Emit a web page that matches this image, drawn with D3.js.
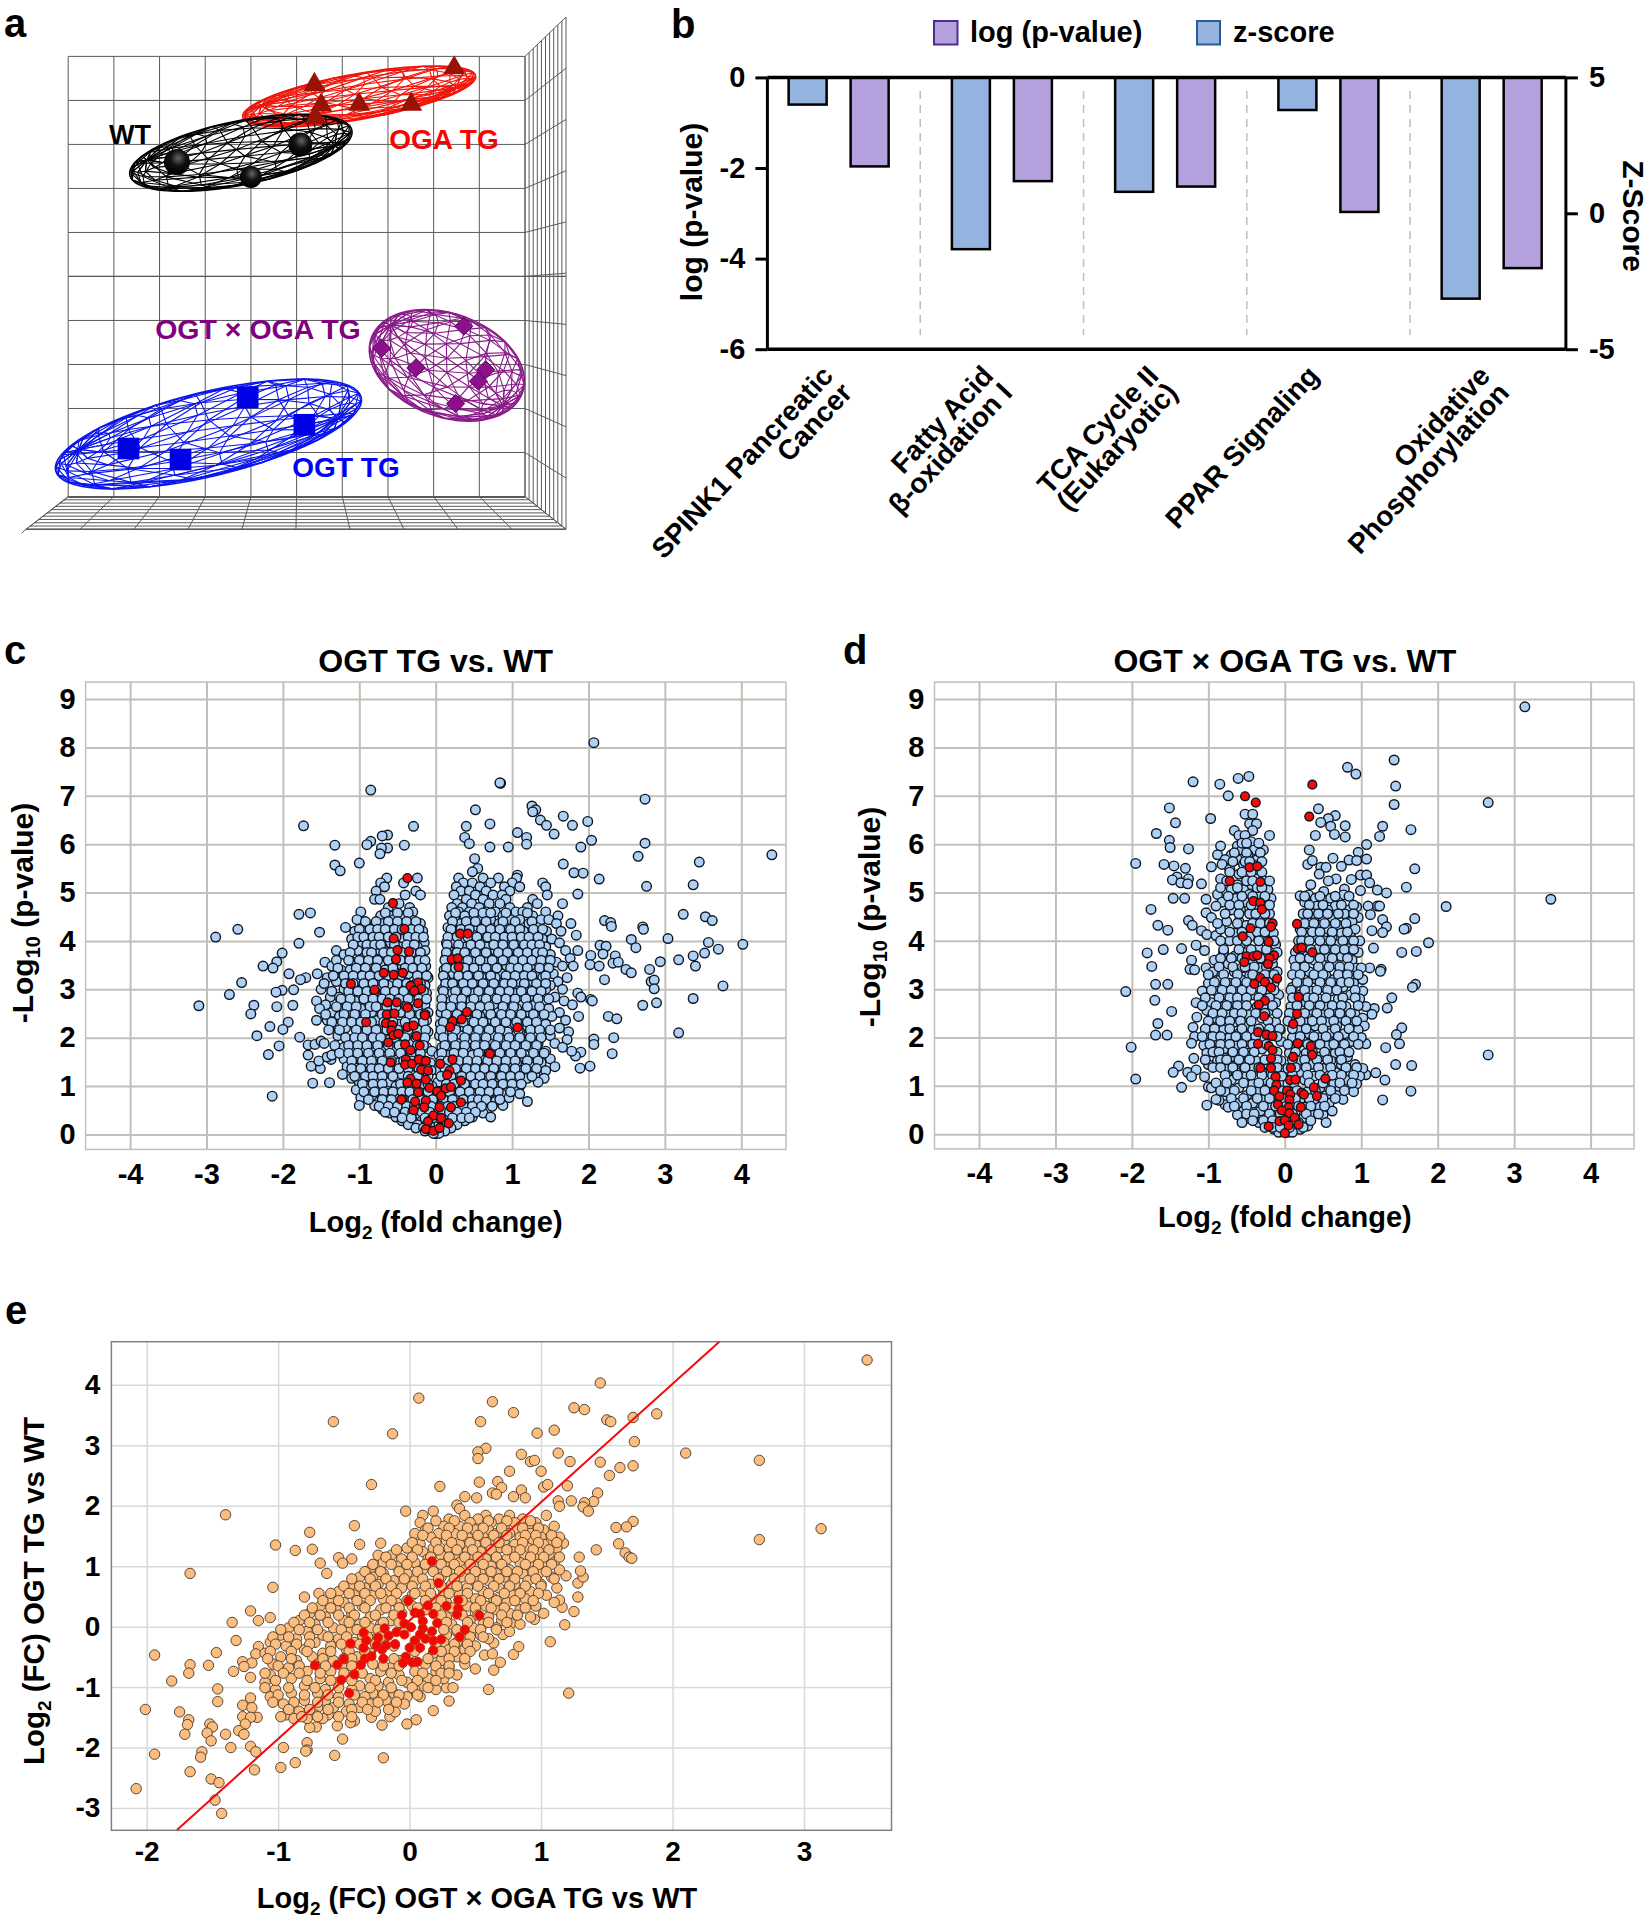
<!DOCTYPE html>
<html><head><meta charset="utf-8">
<script src="https://cdn.jsdelivr.net/npm/d3@7/dist/d3.min.js"></script>
<style>html,body{margin:0;background:#fff}svg{display:block}text{font-family:"Liberation Sans",Arial,sans-serif;font-weight:bold}</style>
</head><body><svg id="s" width="1650" height="1920"></svg>
<script>
// ---------- panel a ----------
const pcaBlack=[[2.38,7.6],[5.08,8.0],[4.0,7.26]];
const pcaRed=[[5.39,9.36],[8.45,9.74],[6.37,8.91],[7.51,8.91],[5.54,8.89],[5.41,8.61]];
const pcaPurple=[[8.66,3.87],[6.86,3.37],[7.61,2.92],[9.14,2.88],[8.98,2.62],[8.48,2.11]];
const pcaBlue=[[3.93,2.25],[5.17,1.63],[1.32,1.09],[2.46,.84]];
// centre x, centre y, major, minor, tilt
const ellRed=[6.37,9.09,2.59,.5,-10];
const ellBlack=[3.78,7.81,2.48,.7,-11.4];
const ellPurple=[8.29,2.98,1.76,1.13,20];
const ellBlue=[3.07,1.42,3.44,.92,-13.5];
// ---------- panel b ----------
const pathways=[["SPINK1 Pancreatic","Cancer"],["Fatty Acid","β-oxidation I"],["TCA Cycle II","(Eukaryotic)"],["PPAR Signaling"],["Oxidative","Phosphorylation"]];
const logP=[-1.965,-2.29,-2.41,-2.97,-4.21];
const zScore=[4.0,-1.32,.79,3.8,-3.14];
const bLeftTicks=[0,-2,-4,-6], bRightTicks=[5,0,-5];
// ---------- panel c ----------
const volX=[-4,-3,-2,-1,0,1,2,3,4], volY=[0,1,2,3,4,5,6,7,8,9];
const cOut=[[2.07,8.1],[-.85,7.12],[.85,7.26],[.84,7.27],[2.74,6.93],[.52,6.71],[1.26,6.79],[1.31,6.71],[1.27,6.67],[1.67,6.58],[1.99,6.47],[1.79,6.39],[1.37,6.5],[1.45,6.39],[-1.73,6.38],[-.29,6.37],[.4,6.37],[.71,6.42],[1.07,6.24],[1.55,6.21],[1.19,6.14],[.38,6.14],[2.04,6.08],[-.63,6.19],[-.7,6.17],[-.85,6.06],[-.9,5.99],[-1.32,5.98],[-.41,5.98],[-.63,5.92],[-.71,5.92],[-.73,5.8],[.44,6.01],[.71,5.94],[.95,5.94],[1.19,6],[1.9,5.94],[2.74,6.02],[2.65,5.75],[4.4,5.78],[3.45,5.63],[-1,5.61],[-1.32,5.57],[-1.25,5.45],[.51,5.7],[.55,5.5],[.48,5.43],[1.67,5.59],[1.81,5.41],[1.93,5.4],[2.14,5.28],[1.07,5.36],[2.76,5.13],[3.37,5.16],[1.86,4.97],[3.24,4.55],[3.53,4.5],[3.62,4.42],[2.21,4.42],[2.29,4.38],[2.3,4.3],[2.71,4.29],[2.72,4.24],[2.56,4.03],[3.04,4.05],[4.02,3.93],[3.57,3.97],[3.7,3.83],[2.62,3.86],[3.52,3.75],[3.37,3.69],[2.15,3.91],[2.23,3.89],[2.19,3.73],[2.35,3.69],[2.03,3.7],[2.94,3.57],[3.18,3.61],[3.4,3.48],[2.32,3.54],[2.39,3.56],[2.02,3.51],[2.14,3.48],[2.49,3.41],[2.56,3.34],[2.8,3.41],[2.21,3.2],[2.82,3.16],[2.86,3.19],[2.86,3.01],[3.76,3.07],[3.37,2.81],[2.03,2.79],[2.05,2.76],[2.71,2.67],[2.89,2.72],[2.26,2.44],[2.37,2.39],[3.18,2.1],[2.33,2],[2.07,1.97],[2.07,1.86],[2.31,1.67],[2.02,1.41],[1.89,1.37],[1.9,1.7],[1.83,1.62],[-2.59,4.24],[-2.88,4.08],[-1.79,4.55],[-1.64,4.58],[-1.52,4.18],[-1.79,3.95],[-2.01,3.75],[-2.08,3.57],[-2.26,3.48],[-2.13,3.44],[-1.92,3.32],[-2.54,3.14],[-1.7,3.24],[-1.77,3.2],[-2.01,2.98],[-2.09,2.94],[-1.86,2.99],[-2.7,2.89],[-3.1,2.66],[-2.38,2.67],[-2.42,2.49],[-2.08,2.64],[-1.87,2.67],[-2.17,2.23],[-1.93,2.32],[-2,2.17],[-2.34,2.04],[-1.78,2.01],[-2.05,1.83],[-2.19,1.65],[-2.14,.79],[-1.61,1.06],[-1.39,1.07],[-1.63,1.41],[-1.67,1.64],[-1.51,1.36],[-1.53,1.52],[-1.37,1.55],[-1.42,1.6],[-1.67,1.85],[-1.58,1.86],[-1.5,1.93]];
// each row: y, then the x values read at about that height
const cRows=[
[5.3,.3,.62,.82,1.06,-.24,-.64],[5.2,.36,.48,.72,1,1.4,-.72,-.42],[5.12,.27,.58,.9,1.1,1.44,-.67],[5.03,.33,.44,.66,.97,-.78,-.26],[4.95,.24,.52,.75,.87,1.46,-.4,-.2],[4.86,.4,.62,.92,1.27,-.8,-.73],[4.77,.28,.47,.7,.84,1.33,1.66,-.48],[4.69,.21,.35,.57,.97,1.2,-.62,-.34],[4.6,.3,.44,.66,.78,1.05,1.14,1.44,-.98,-.3],[4.52,.18,.38,.53,.88,1.27,1.6,-.6,-.72,-.42],[4.44,.25,.6,.72,.98,1.1,1.38,1.48,-1.03,-.55,-.32],[4.36,.33,.46,.83,1.22,1.58,1.77,-.7,-.2,-.45],[4.28,.16,.55,.68,.91,1.02,1.32,-1.18,-.84,-.62,-.38,-.25],[4.2,.27,.39,.77,1.15,1.45,1.64,-1.06,-.92,-.72,-.5,-.17],[4.12,.2,.49,.62,.86,1.05,1.26,1.84,-.78,-.57,-.3],[4.04,.34,.56,.95,1.18,1.4,1.52,-1.1,-.88,-.66,-.42,-.2],[3.96,.14,.25,.72,.82,1.1,1.3,1.62,-.96,-.6,-.33,-.15],[3.88,.4,.52,.66,.92,1.22,1.44,-.83,-.7,-.47,-.24],[3.8,.17,.3,.78,1.03,1.36,1.7,1.86,-1.3,-1.02,-.76,-.55,-.14],[3.72,.24,.46,.6,.88,1.14,1.28,1.5,-1.2,-.64,-.4,-.26],[3.64,.13,.36,.7,.97,1.2,1.42,1.76,-.95,-.8,-.5,-.18],[3.56,.52,.64,.83,1.07,1.33,1.58,-1.45,-1.08,-.72,-.3],[3.48,.18,.28,.42,.76,.93,1.24,1.66,1.8,-1.36,-.88,-.6,-.44,-.13],[3.4,.11,.34,.58,1.01,1.14,1.46,-1.24,-1.12,-.98,-.66,-.26],[3.32,.22,.48,.68,.86,1.3,1.54,-1.55,-.82,-.5,-.36,-.17],[3.24,.12,.38,.6,.78,.96,1.18,1.4,1.72,-1.42,-1.16,-.92,-.7,-.1],[3.16,.27,.52,.7,1.08,1.27,1.6,-1.3,-1.04,-.78,-.56,-.24,-.42],[3.08,.17,.44,.84,.98,1.36,1.5,-.88,-.62,-.34,-.14],[3,.09,.32,.64,.76,1.16,1.44,1.66,-1.5,-1.2,-.96,-.72,-.47],[2.92,.22,.5,.9,1.06,1.3,1.86,-1.1,-.84,-.58,-.12],[2.84,.36,.58,.72,1.22,1.56,1.9,-1.38,-1.26,-1,-.66,-.4],[2.76,.1,.2,.46,.84,.98,1.4,1.68,-1.56,-1.06,-.76,-.3],[2.68,.28,.62,.76,1.14,1.3,1.79,-1.44,-.9,-.54,-.14],[2.6,.14,.4,.52,.92,1.06,1.48,-1.52,-1.2,-.98,-.72,-.42],[2.52,.07,.24,.68,.82,1.22,1.62,-1.36,-1.12,-.84,-.46,-.1],[2.44,.32,.58,.98,1.36,1.52,1.87,-1.26,-1,-.62,-.26],[2.36,.17,.44,.74,.88,1.14,1.7,-1.56,-1.42,-.76,-.12],[2.28,.06,.28,.54,1.04,1.28,1.44,-1.3,-1.08,-.88,-.48],[2.2,.38,.66,.8,1.2,1.62,-1.18,-.94,-.7,-.2],[2.12,.12,.22,.48,.94,1.1,1.38,1.74,-1.02,-.82,-.34,-.1],[2.04,.05,.34,.6,.74,1.28,1.5,-1.28,-.9,-.46,-.17],[1.96,.18,.42,.86,1,1.16,1.72,-1.14,-.76,-.6],[1.88,.28,.54,.7,1.34,1.56,-1.46,-1,-.84,-.34],[1.8,.08,.14,.4,.92,1.08,1.24,1.66,-1.2,-.7,-.12],[1.72,.26,.62,.78,1.44,1.78,-1.08,-.92,-.55,-.05],[1.64,.04,.18,.48,.86,1.02,1.3,-1.36,-.78,-.42],[1.56,.32,.58,.72,1.16,1.5,-1.2,-1.02,-.62,-.28],[1.48,.1,.22,.44,.94,1.06,1.38,-.9,-.5,-.07],[1.4,.3,.66,.82,1.24,1.56,-1.16,-.72,-.26],[1.32,.04,.14,.52,1,1.12,1.44,-1.04,-.86,-.56,-.06],[1.24,.24,.4,.74,.9,1.3,-1.22,-.94,-.68,-.44],[1.16,.1,.58,1.04,1.2,1.42,-1.1,-.78,-.16],[1.08,.03,.3,.46,.84,.96,1.34,-1,-.6,-.3],[1,.18,.66,.78,1.1,-.88,-.52,-.05],[.92,.25,.38,.94,1.02,-1.04,-.74,-.4,-.15],[.84,.08,.52,.7,.86,1.1,-.9,-.62,-.3],[.76,.03,.3,.44,.96,-.98,-.5,-.06],[.68,.16,.6,.78,1.2,-.74,-.36,-.1],[.6,.26,.42,.88,-1,-.8,-.56,-.44],[.52,.09,.52,.68,-.7,-.34,-.22],[.44,.03,.2,.36,.62,-.6,-.46,-.14],[.36,.13,.3,.48,.72,-.52,-.36,-.24],[.28,.08,.22,.38,-.44,-.3,-.18],[.2,.02,.14,.28,-.36,-.24,-.08],[.13,.07,.2,-.26,-.16],[.07,.02,.12,-.14,-.06],[.02,0,.04,-.03]];
const cRows2=[
[4.58,.26,.5,.62,.72,.92,1.2,-.66,-.5,-.36],[4.4,.22,.4,.52,.66,.88,1.04,1.26,-.92,-.78,-.62,-.5,-.38,-.26],[4.24,.2,.33,.44,.6,.72,.84,.98,1.1,1.28,1.4,-1,-.86,-.76,-.66,-.54,-.44,-.32,-.22],[4.08,.16,.28,.42,.54,.68,.78,.9,1,1.12,1.22,1.34,-1.02,-.94,-.82,-.74,-.62,-.52,-.36,-.26,-.16],[3.92,.15,.3,.46,.58,.76,.88,1.02,1.16,1.26,1.36,-1.08,-.9,-.8,-.72,-.54,-.38,-.28],[3.76,.14,.28,.38,.52,.66,.82,.94,1.08,1.2,1.32,1.4,-1.12,-.9,-.84,-.68,-.58,-.44,-.32,-.2],[3.6,.12,.24,.42,.58,.74,.88,1.02,1.14,1.26,1.38,1.5,-1.3,-1.14,-1,-.88,-.76,-.62,-.46,-.34,-.22,-.14],[3.44,.14,.26,.38,.5,.66,.8,.98,1.08,1.2,1.36,1.48,-1.28,-1.04,-.92,-.78,-.56,-.4,-.3,-.18],[3.28,.1,.3,.42,.56,.72,.92,1.04,1.16,1.26,1.44,-1.34,-1.2,-1.08,-.96,-.86,-.74,-.64,-.46,-.24,-.12],[3.12,.13,.22,.36,.48,.62,.76,.9,1,1.16,1.32,1.44,-1.46,-1.18,-1.08,-.94,-.82,-.68,-.5,-.38,-.2],[2.96,.1,.26,.4,.56,.7,.84,.96,1.12,1.26,1.38,-1.36,-1.14,-1.02,-.9,-.8,-.66,-.54,-.42,-.28,-.16],[2.8,.08,.24,.34,.5,.66,.8,.92,1.04,1.18,1.34,1.48,-1.24,-1.12,-.94,-.82,-.7,-.6,-.48,-.36,-.22,-.12],[2.64,.08,.2,.34,.46,.58,.7,.88,1.02,1.2,1.36,-1.3,-1.16,-1.04,-.86,-.78,-.64,-.52,-.38,-.24],[2.48,.14,.28,.4,.54,.72,.86,.98,1.12,1.28,1.42,-1.44,-1.2,-1.06,-.92,-.7,-.58,-.34,-.2,-.14],[2.32,.1,.22,.36,.5,.62,.78,.92,1.06,1.2,1.32,-1.36,-1.22,-1.1,-.98,-.84,-.68,-.56,-.4,-.28,-.16],[2.16,.07,.26,.42,.56,.7,.84,1.08,1.24,1.36,1.5,-1.4,-1.26,-1.04,-.9,-.78,-.64,-.5,-.36,-.24,-.13],[2,.1,.22,.38,.52,.66,.82,.96,1.1,1.24,1.38,-1.18,-1.06,-.96,-.82,-.72,-.54,-.4,-.26,-.14],[1.84,.12,.26,.38,.52,.64,.78,.92,1.04,1.18,1.32,-1.32,-1.14,-1.02,-.9,-.76,-.62,-.48,-.24,-.16],[1.68,.08,.24,.36,.56,.7,.84,.98,1.12,1.28,1.42,-1.26,-1.14,-1.02,-.88,-.74,-.6,-.46,-.32,-.2],[1.52,.07,.16,.3,.42,.54,.68,.8,.92,1.04,1.2,1.34,-1.1,-.96,-.84,-.7,-.58,-.42,-.32,-.14],[1.36,.12,.26,.4,.52,.64,.76,.9,1.04,1.18,1.32,-1.1,-.98,-.84,-.74,-.62,-.48,-.36,-.22,-.12],[1.2,.07,.2,.34,.46,.58,.72,.86,.98,1.1,1.26,-1.06,-.92,-.82,-.7,-.56,-.36,-.24,-.1],[1.04,.14,.24,.38,.52,.62,.74,.88,1,1.12,-.96,-.82,-.7,-.46,-.36,-.18,-.1],[.88,.05,.18,.32,.44,.58,.7,.82,.98,-.94,-.8,-.68,-.56,-.44,-.34,-.22,-.1],[.72,.1,.22,.36,.48,.56,.66,.84,-.88,-.7,-.58,-.44,-.3,-.2,-.04],[.58,.06,.16,.24,.36,.48,.6,.74,-.74,-.62,-.5,-.38,-.28,-.14,-.06],[.46,.09,.18,.28,.4,.52,-.66,-.54,-.4,-.3,-.18,-.08],[.34,.04,.22,.34,.44,-.44,-.32,-.14,-.04]];
const cRed=[[-.37,5.3],[-.56,4.78],[-.41,4.25],[-.55,4.05],[.32,4.15],[.42,4.15],[-.5,3.81],[-.35,3.78],[-.52,3.62],[.21,3.62],[.29,3.64],[.3,3.46],[-.68,3.34],[-.43,3.34],[-.55,3.3],[-1.11,3.11],[-.23,3.14],[-.33,3.07],[-.19,3.01],[-.28,2.97],[-.8,2.99],[-.63,2.73],[-.51,2.73],[-.23,2.71],[-.37,2.62],[-.64,2.48],[-.54,2.5],[-.14,2.46],[.41,2.53],[.34,2.38],[.22,2.34],[.19,2.22],[-.91,2.32],[-.65,2.3],[-.57,2.26],[-.37,2.22],[-.29,2.25],[1.07,2.21],[-.58,2.15],[-.55,2.05],[-.49,2.08],[-.25,2.03],[-.62,1.9],[-.4,1.86],[-.21,1.84],[-.33,1.74],[.71,1.67],[-.59,1.49],[-.39,1.55],[-.4,1.44],[-.31,1.46],[-.22,1.55],[-.13,1.52],[.06,1.46],[.22,1.55],[-.19,1.34],[-.1,1.32],[.18,1.32],[.15,1.23],[-.33,1.15],[-.13,1.13],[.33,1.11],[-.37,1.07],[-.25,1.05],[-.08,.96],[.13,.95],[.2,.98],[-.23,.87],[.02,.89],[.07,.8],[-.45,.72],[-.27,.68],[-.13,.7],[.33,.66],[-.15,.56],[-.29,.5],[.05,.56],[.2,.56],[-.03,.39],[-.1,.27],[.07,.34],[.17,.23],[-.13,.11],[-.03,.07],[.05,.13]];
// ---------- panel d ----------
const dOut=[[3.14,8.84],[1.43,7.74],[.82,7.59],[.93,7.45],[1.45,7.2],[1.43,6.82],[2.66,6.86],[-1.2,7.29],[-.85,7.24],[-.61,7.36],[-.47,7.4],[-.74,7],[-1.51,6.75],[-1.43,6.44],[-.97,6.53],[-1.68,6.22],[-1.51,6.08],[-1.5,5.93],[-1.26,5.9],[-1.95,5.6],[-1.58,5.58],[-1.45,5.55],[-1.3,5.5],[-.96,5.53],[-1.41,5.32],[-1.47,5.26],[-1.26,5.28],[-1.36,5.2],[-1.27,5.18],[-1.09,5.18],[-1.46,4.88],[-1.31,4.88],[-1.03,4.86],[-1.75,4.65],[-1.03,4.58],[-1.66,4.32],[-1.53,4.22],[-1.26,4.42],[-1.21,4.32],[-1.09,4.21],[-1.02,4.13],[-.9,4.11],[-1.16,3.91],[-1.35,3.84],[-1.59,3.82],[-1.8,3.75],[-1.05,3.8],[-1.22,3.6],[-1.74,3.47],[-1.24,3.41],[-1.18,3.4],[-1.03,3.44],[-1.69,3.1],[-1.53,3.1],[-2.08,2.95],[-1.7,2.77],[-1.48,2.54],[-1.15,2.42],[-1.66,2.29],[-1.2,2.21],[-1.69,2.05],[-1.54,2.05],[-1.18,2.02],[-1.22,1.88],[-2.01,1.8],[-1.19,1.57],[-1.39,1.41],[-1.46,1.28],[-1.27,1.28],[-1.16,1.33],[-1.22,1.19],[-1.05,1.19],[-1.95,1.14],[-1.35,.97],[-1,.98],[-1.02,.6],[-.78,.61],[-.86,.7],[.44,6.73],[.66,6.59],[.57,6.53],[.47,6.45],[.79,6.38],[.6,6.37],[.65,6.2],[.79,6.15],[.4,6.18],[1.28,6.37],[1.65,6.3],[1.24,6.16],[1.07,5.99],[.32,5.88],[.96,5.83],[1.07,5.69],[.84,5.67],[.94,5.66],[.63,5.71],[.3,5.58],[.36,5.66],[.74,5.54],[1.7,5.49],[.47,5.52],[.54,5.52],[.99,5.36],[1.07,5.36],[.45,5.38],[.87,5.27],[.67,5.28],[.57,5.24],[1.11,5.2],[1.59,5.11],[.34,5.16],[.78,5.07],[1.21,5.05],[1.33,4.99],[.99,5.04],[.77,4.95],[.51,5.02],[.31,4.95],[.2,4.93],[2.11,4.71],[3.48,4.86],[1.21,4.72],[1.09,4.72],[1.24,4.72],[1.7,4.46],[1.28,4.44],[1.33,4.29],[1.12,4.54],[.94,4.7],[1.59,4.26],[1.56,4.24],[1.28,4.17],[1.14,4.21],[1.88,3.96],[1.72,3.78],[1.53,3.76],[1.16,3.85],[1.26,3.41],[1.25,3.37],[1.11,3.44],[1.71,3.1],[1.67,3.04],[1.4,2.82],[1.34,2.61],[1.17,2.6],[1.14,2.48],[1.53,2.2],[1.46,2.06],[1.5,1.87],[1.06,1.87],[1.32,1.79],[2.66,1.64],[1.45,1.44],[1.66,1.42],[1.19,1.27],[1.31,1.12],[1.65,.89],[1.28,.71],[1.06,1.23]];
const dRows=[
[6.62,-.52,-.42],[6.42,-.46,-.37],[6.28,-.66,-.42],[6.18,-.6,-.52,-.2],[6.05,-.44],[5.96,-.84,-.62],[5.88,-.56,-.4,-.28],[5.78,-.88,-.7,-.48],[5.68,-.78,-.62,-.36],[5.58,-.82,-.54,-.42],[5.48,-.72],[5.38,-.6,-.5],[5.28,-.84,-.38],[5.16,-.62,-.44,-.28],[5.06,-.7,-.54,-.22],[4.96,-.88,-.46,-.34],[4.88,-.64,-.18,.4,.6],[4.8,-.82,-.52,.26,.7],[4.72,-.9,-.38,-.24,.42,.66],[4.64,-.7,-.58,.56,.84],[4.56,-.46,-.2,.24,.38,.78],[4.48,-.96,-.32,.5,.62,.96],[4.4,-.76,-.6,.3,.88],[4.32,-.5,-.24,.7,.44],[4.24,-.84,-.38,.2,.56,.92],[4.16,-.66,-.15,.3,.74],[4.08,-.46,-.3,.4,.62,.86],[4,-.72,-.22,.18,.52,.98],[3.92,-.58,-.12,.28,.7],[3.84,-.34,.44,.6,.84],[3.76,-.8,-.5,-.1,.14,.96],[3.68,-.66,-.26,.26,.54,.74],[3.6,-.92,-.42,.12,.38,.88],[3.52,-.74,-.16,.64,.48,.8],[3.44,-.56,-.32,.22,.94,1],[3.36,-.94,-.66,-.1,.32,.72],[3.28,-.46,-.2,.14,.54,.86],[3.2,-.84,-.58,-.36,.42,.64,1.02],[3.12,-1,-.72,-.14,.24,.9],[3.04,-.5,-.28,.1,.5,.76],[2.96,-1.08,-.9,-.62,.34,.6,1.02],[2.88,-.78,-.42,-.08,.2,.86],[2.8,-.56,-.24,.44,.7,.98],[2.72,-1.16,-.96,-.68,-.12,.28],[2.64,-.84,-.36,.08,.54,.8,1.06],[2.56,-1.02,-.6,-.2,.36,.64],[2.48,-.74,-.48,.16,.92,.48],[2.4,-.9,-.3,.06,.74,1.02],[2.32,-.66,-.12,.26,.56,.86],[2.24,-.98,-.52,.4,.68,1.04],[2.16,-.8,-.42,-.06,.18,.96],[2.08,-1.02,-.6,.32,.58,.78],[2,-.72,-.28,.1,.46,1],[1.92,-.9,-.5,-.05,.24,.68,.88],[1.84,-1.06,-.64,.38,.56],[1.76,-.8,-.3,.12,.8],[1.68,-1.02,-.48,.06,.28,.66],[1.6,-.7,-.58,.46,.82],[1.52,-.88,-.38,-.05,.18,.6],[1.44,-1,-.54,-.22,.34,.74,.92],[1.36,-.76,-.42,.04,.5,1.02],[1.28,-.64,-.3,.2,.66,.86],[1.2,-.5,-.04,.38,.98],[1.12,-.7,-.26,.26,.56,.8],[1.04,-.42,.04,.64,.94],[.96,-.96,-.6,-.2,.46,.72],[.88,-.78,-.34,.12,.3,.9],[.8,-.5,-.1,.54,.68],[.72,-.9,-.28,.2,.38,.76],[.64,-.62,-.42,.08,.58],[.56,-.74,-.18,.26,.46],[.48,-.54,-.32,0,.14,.62],[.4,-.62,-.1,.36,.5],[.32,-.46,-.24,.08,.24],[.24,-.56,-.34,-.06,.18,.54],[.17,-.22,.1,.3],[.1,-.14,-.04,.2],[.04,-.08,.04,.1]];
const dRows2=[
[6.02,-.56,-.34,-.5],[5.82,-.66,-.5,-.32],[5.64,-.68,-.52,-.46,-.3],[5.42,-.72,-.56,-.44,-.3],[5.24,-.76,-.5,-.42,-.26,-.2],[5.1,-.84,-.62,-.36,-.3],[4.92,-.74,-.56,-.42,-.26,.26,.46,.66,.84],[4.74,-.72,-.6,-.44,-.2,.32,.5,.74,.9],[4.56,-.78,-.6,-.38,-.26,.3,.44,.56,.7,.9],[4.36,-.88,-.62,-.42,-.32,-.2,.26,.38,.52,.66,.8],[4.18,-.72,-.56,-.36,-.26,.22,.36,.46,.62,.82],[4,-.84,-.62,-.5,-.34,-.14,.22,.32,.46,.6,.76,.9],[3.82,-.8,-.6,-.44,-.24,.2,.34,.52,.66,.78,.9],[3.64,-.84,-.7,-.56,-.32,-.16,.2,.32,.46,.62,.82],[3.46,-.86,-.68,-.52,-.4,-.24,.14,.26,.44,.58,.72,.84],[3.3,-1,-.8,-.62,-.42,-.26,-.14,.1,.2,.38,.5,.7,.82,.96],[3.14,-.92,-.78,-.64,-.5,-.32,-.22,.16,.3,.46,.6,.74,.84],[2.98,-.96,-.82,-.7,-.56,-.44,-.3,-.14,.08,.26,.42,.56,.68,.92],[2.82,-1.04,-.86,-.72,-.62,-.5,-.34,-.2,.1,.3,.38,.54,.76,.92],[2.66,-1.08,-.9,-.76,-.62,-.5,-.28,-.16,.16,.32,.46,.62,.74,.96],[2.5,-.94,-.82,-.66,-.56,-.38,-.26,-.1,.06,.26,.42,.58,.72,.86],[2.34,-1,-.84,-.72,-.58,-.44,-.22,.04,.2,.36,.48,.64,.8,.94],[2.18,-1.04,-.92,-.72,-.56,-.34,-.2,-.07,.1,.28,.5,.66,.84],[2.02,-1.08,-.94,-.84,-.64,-.5,-.38,-.1,.2,.38,.54,.7,.9],[1.86,-.98,-.84,-.72,-.56,-.42,-.24,.04,.16,.3,.46,.64,.78,.96],[1.7,-.94,-.86,-.68,-.54,-.4,-.1,.14,.36,.52,.72,.84],[1.54,-1.04,-.84,-.76,-.6,-.46,-.26,-.1,.1,.26,.42,.56,.74],[1.38,-.94,-.84,-.68,-.52,-.34,-.1,.14,.28,.44,.6,.8,.94],[1.22,-.78,-.62,-.44,-.3,-.16,.1,.3,.46,.62,.74,.9],[1.06,-.9,-.76,-.54,-.34,-.18,.12,.32,.5,.72,.88],[.9,-.84,-.66,-.44,-.26,-.06,.16,.4,.6,.78],[.74,-.7,-.54,-.36,-.2,-.02,.14,.32,.5,.66],[.58,-.66,-.5,-.28,-.12,.02,.18,.34,.52],[.42,-.5,-.4,-.2,-.06,.1,.28,.44],[.28,-.42,-.28,-.16,.02,.14,.34],[.14,-.26,-.16,-.06,.06,.24]];
const dRed=[[-.52,6.99],[-.38,6.86],[.36,7.23],[.32,6.57],[-.46,5.52],[-.36,5.54],[-.72,5.24],[-.32,5.22],[-.41,4.82],[-.32,4.79],[-.3,4.65],[-.16,4.36],[-.18,4.29],[-.45,4.26],[.16,4.35],[-.55,4.09],[-.21,3.98],[.17,3.84],[.22,3.86],[.36,3.76],[-.5,3.68],[-.41,3.68],[-.36,3.7],[-.14,3.7],[-.2,3.64],[-.53,3.56],[-.22,3.52],[-.32,3.23],[-.1,3.22],[-.26,3.15],[-.4,3.11],[-.18,3.03],[.18,2.84],[-.26,2.76],[-.34,2.68],[.16,2.49],[-.27,2.44],[.11,2.28],[-.35,2.11],[-.24,2.06],[-.16,2.03],[-.35,1.87],[.17,1.88],[.34,1.82],[-.21,1.82],[-.16,1.74],[.36,1.64],[.11,1.6],[-.18,1.57],[-.18,1.37],[-.32,1.37],[.08,1.37],[-.12,1.19],[.07,1.12],[.14,1.13],[.53,1.15],[-.11,1.02],[.38,.97],[-.14,.9],[.03,.9],[.22,.86],[.25,.82],[.42,.79],[-.07,.78],[.07,.82],[.06,.71],[-.09,.61],[.21,.56],[.05,.56],[-.04,.49],[.06,.43],[.13,.34],[-.07,.27],[0,.29],[.18,.2],[.05,.18],[-.21,.16],[0,.02]];
// ---------- panel e ----------
const eXTicks=[-2,-1,0,1,2,3], eYTicks=[-3,-2,-1,0,1,2,3,4];
const eLineX=[-1.77,2.356], eLineY=[-3.365,4.714];
const eOut=[[3.48,4.41],[1.45,4.03],[.07,3.78],[.63,3.72],[.79,3.54],[1.25,3.62],[1.33,3.59],[1.88,3.52],[1.7,3.46],[1.5,3.42],[1.53,3.39],[-.58,3.39],[.54,3.39],[-.13,3.19],[.97,3.2],[1.1,3.25],[1.71,3.06],[.58,2.95],[.52,2.89],[.52,2.78],[.85,2.85],[1.13,2.87],[2.1,2.87],[2.66,2.75],[.92,2.73],[.95,2.75],[1.22,2.73],[1.45,2.72],[1.7,2.66],[1.6,2.63],[1,2.57],[.76,2.57],[1.52,2.5],[.67,2.4],[.53,2.39],[-.29,2.35],[.23,2.32],[.7,2.3],[1.02,2.31],[1.05,2.35],[1.2,2.33],[.85,2.26],[1.43,2.21],[.63,2.21],[.66,2.19],[.42,2.15],[.51,2.13],[.79,2.15],[.88,2.13],[1.13,2.08],[1.23,2.08],[1.4,2.07],[1.33,2.05],[1.32,1.98],[1.14,1.99],[1.36,1.91],[.36,2.01],[-1.4,1.85],[-.03,1.91],[.18,1.91],[.38,1.95],[1.7,1.74],[1.57,1.64],[1.65,1.65],[3.13,1.62],[2.66,1.44],[1.59,1.37],[1.42,1.27],[1.64,1.22],[1.67,1.15],[1.69,1.13],[1.29,1.15],[1.17,1.38],[-.42,1.67],[-.76,1.56],[-.38,1.36],[-.22,1.38],[-1.02,1.35],[-.87,1.26],[-.74,1.28],[-.54,1.14],[-.44,1.12],[-.51,1.05],[-.68,1.05],[-.63,.88],[-1.67,.88],[-1.04,.65],[-.8,.49],[-.69,.55],[-1.21,.26],[-1.06,.15],[-1.15,.1],[-1.35,.07],[-1.94,-.47],[-1.32,-.23],[-1.47,-.43],[-1.15,-.33],[-1.17,-.45],[-1.27,-.58],[-1.2,-.6],[-1.26,-.66],[-1.67,-.63],[-1.53,-.64],[-1.34,-.74],[-1.68,-.77],[-1.81,-.9],[-1.21,-.84],[-1.46,-1.03],[-1.46,-1.24],[-1.21,-1.18],[-1.27,-1.3],[-1.2,-1.34],[-2.01,-1.37],[-1.75,-1.41],[-1.68,-1.54],[-1.69,-1.62],[-1.71,-1.78],[-1.27,-1.49],[-1.16,-1.5],[-1.21,-1.5],[-1.25,-1.61],[-1.52,-1.61],[-1.5,-1.66],[-1.54,-1.76],[-1.4,-1.78],[-1.3,-1.72],[-1.26,-1.78],[-1.51,-1.89],[-1.94,-2.11],[-1.58,-2.07],[-1.59,-2.16],[-1.36,-2],[-1.21,-1.98],[-1.17,-2.07],[-1.67,-2.4],[-1.18,-2.37],[-.98,-2.33],[-.87,-2.25],[-.96,-2],[-.78,-1.92],[-.78,-2.04],[-.79,-2.06],[-.57,-2.13],[-.2,-2.17],[-1.51,-2.52],[-1.45,-2.58],[-2.08,-2.68],[-1.48,-2.87],[-1.43,-3.09],[-.51,-1.86],[-.55,-1.64],[-.42,-1.56],[-.45,-1.59],[-.71,-1.66],[-.76,-1.67],[-.21,-1.63],[-.02,-1.61],[.05,-1.54],[.18,-1.39],[-.15,-1.49],[-.29,-1.5],[-.11,-1.41],[.3,-1.23],[.28,-1.01],[.33,-1.01],[.6,-1.04],[1.21,-1.1],[.5,-.7],[.64,-.72],[.69,-.59],[.57,-.47],[.63,-.45],[.79,-.46],[.83,-.33],[.64,-.27],[.71,-.13],[1.07,-.25],[1.18,.03],[1.25,.25],[1.16,.32],[1.14,.44],[.95,.12],[.77,.05],[1.28,.49],[1.28,.72],[1.32,.82],[1.19,.84],[1.3,.92]];
const eRows=[
[1.84,.1,.42,.58,.76,1.04],[1.78,.3,.52,.68,.86],[1.72,.08,.46,.62,.8,.96],[1.66,.26,.38,.72,.9,1.1],[1.6,.12,.5,.6,.82,1.02],[1.54,.04,.22,.34,.66,.76,.92],[1.48,.16,.44,.56,.84,1,1.14],[1.42,.28,.62,.72,.94,1.08],[1.36,.08,.38,.5,.8,1.02],[1.3,-.02,.18,.3,.6,.68,.9,1.12],[1.24,.1,.44,.54,.78,.98],[1.18,-.24,-.14,.24,.34,.64,.86,1.06],[1.12,-.06,.14,.46,.58,.74,.96],[1.06,-.2,.04,.28,.38,.68,.84,1.1],[1,-.1,.2,.5,.62,.92,1.02],[.94,-.3,.1,.32,.42,.76,1.14],[.88,-.2,-.02,.54,.66,.86,.98],[.82,-.38,-.28,.24,.4,.72,1.08],[.76,-.12,.04,.5,.6,.9],[.7,-.44,-.24,.16,.32,.8,1],[.64,-.34,-.06,.44,.68,1.12],[.58,-.54,-.16,.1,.26,.56,.92],[.52,-.42,-.28,.02,.38,.78,1.04],[.46,-.6,-.2,.18,.5,.64,.88],[.4,-.5,-.1,.28,.74,1.1],[.34,-.68,-.36,.02,.44,.58,.96],[.28,-.56,-.22,.12,.66,.84],[.22,-.76,-.44,-.06,.5,.76,1.02],[.16,-.64,-.3,.28,.6,.92],[.1,-.84,-.5,-.14,.46,.7],[.04,-.72,-.38,-.22,.32,.56,.84],[-.02,-.92,-.58,-.3,.48,.66],[-.08,-.78,-.46,.36,.76],[-.14,-.98,-.66,-.36,.28,.54],[-.2,-.86,-.54,-.26,.44,.6],[-.26,-1.06,-.72,-.42,.26,.36],[-.32,-.94,-.6,-.12,.5],[-.38,-.8,-.48,.3,.42],[-.44,-1.1,-.66,-.3,.18],[-.5,-.98,-.74,-.4,.36],[-.56,-.86,-.58,-.08,.24],[-.62,-1.04,-.7,-.28,.12,.42],[-.68,-.92,-.5,-.14,.3],[-.74,-.78,-.6,-.22,.04,.2],[-.8,-1.06,-.42,-.08,.36],[-.86,-.9,-.68,-.3,.14,.26],[-.92,-1.1,-.54,-.16,-.02],[-.98,-.8,-.38,-.24,.1],[-1.04,-1.02,-.64,-.44,.04,.2],[-1.1,-.9,-.7,-.28,-.12],[-1.16,-1.06,-.54,-.34,-.02,.08],[-1.22,-.8,-.64,-.18],[-1.28,-.96,-.46,-.3,-.04],[-1.34,-.7,-.58,-.38],[-1.4,-.84,-.48,-.26],[-1.46,-.94,-.72,-.62],[-1.52,-.88,-.78,-.66]];
const eRows2=[
[1.75,.2,.34,.6,.74,.92],[1.63,.14,.3,.44,.56,.7,.86,.98],[1.51,.1,.28,.4,.52,.64,.74,.88,.96,1.08],[1.39,.02,.2,.32,.46,.58,.68,.86,.98,1.12],[1.27,-.1,.06,.22,.36,.48,.62,.74,.84,.94,1.06],[1.15,-.18,.02,.16,.3,.42,.52,.66,.8,.92,1.02,1.14],[1.03,-.28,-.14,-.02,.12,.24,.34,.46,.56,.7,.88,.98,1.08],[.91,-.34,-.22,-.08,.06,.18,.28,.38,.5,.62,.74,.82,.94,1.04],[.79,-.44,-.3,-.18,-.04,.1,.22,.34,.46,.56,.68,.8,.96,1.1],[.67,-.5,-.38,-.26,-.14,.02,.12,.24,.36,.52,.64,.76,.88,1],[.55,-.6,-.46,-.34,-.22,-.1,.04,.16,.3,.44,.6,.72,.84,.98],[.43,-.66,-.54,-.4,-.3,-.14,-.02,.12,.24,.4,.54,.66,.8,.94],[.31,-.74,-.6,-.46,-.34,-.18,-.08,.06,.2,.32,.5,.62,.72,.88],[.19,-.8,-.68,-.54,-.42,-.26,-.12,.24,.4,.52,.7,.82],[.07,-.88,-.76,-.62,-.46,-.34,-.2,-.08,.28,.44,.6,.74],[-.05,-.98,-.84,-.7,-.52,-.4,-.24,.26,.36,.54,.66],[-.17,-1.04,-.92,-.76,-.62,-.48,-.32,-.22,.46,.56],[-.29,-1.02,-.86,-.76,-.52,-.38,-.26,.04,.2,.34,.44],[-.41,-1.06,-.9,-.78,-.6,-.46,-.34,.04,.24,.34,.46],[-.53,-1.08,-.9,-.66,-.5,-.44,-.12,.14,.3,.42],[-.65,-1,-.84,-.64,-.44,-.2,-.08,.2,.3],[-.77,-1.1,-.96,-.84,-.68,-.5,-.36,-.14,.1,.24,.3],[-.89,-1.02,-.78,-.6,-.44,-.26,-.06,.06,.2],[-1.01,-1.1,-.92,-.72,-.54,-.3,-.14,.02,.14],[-1.13,-1,-.8,-.62,-.42,-.2,-.08,.06],[-1.25,-1.04,-.88,-.7,-.54,-.36,-.24,-.1],[-1.37,-.92,-.76,-.62,-.44,-.32,-.16],[-1.49,-.98,-.82,-.7,-.54,-.44]];
const eRed=[[.17,1.08],[.22,.72],[-.01,.43],[.37,.44],[.14,.35],[.28,.34],[.37,.3],[-.06,.19],[.04,.23],[.08,.21],[.18,.21],[.36,.2],[.53,.19],[-.04,.05],[.1,.09],[.21,.06],[-.19,-.03],[.01,-.01],[.1,-.03],[.42,-.05],[-.35,-.1],[-.1,-.09],[-.04,-.13],[.08,-.13],[.17,-.08],[-.24,-.18],[-.16,-.15],[.38,-.17],[-.45,-.28],[-.33,-.23],[.04,-.23],[.12,-.2],[.18,-.23],[.24,-.21],[-.35,-.35],[-.25,-.31],[-.18,-.31],[-.11,-.29],[0,-.35],[.08,-.35],[.18,-.39],[-.21,-.38],[-.5,-.53],[-.34,-.53],[-.29,-.49],[-.2,-.53],[-.03,-.5],[-.72,-.64],[-.55,-.63],[-.37,-.63],[-.05,-.6],[.02,-.59],[.06,-.58],[-.42,-.79],[-.52,-.88],[-.46,-1.1]];

const flat=rows=>rows.flatMap(r=>r.slice(1).map(x=>[x,r[0]]));
const svg=d3.select("#s");
const label=(t,x,y,size,fill="#000",anchor="middle",rot=0)=>svg.append("text").attr("transform",`translate(${x},${y}) rotate(${rot})`).attr("text-anchor",anchor).attr("font-size",size).attr("fill",fill).text(t);
[["a",4,37],["b",671,38],["c",4,664],["d",843,664],["e",5,1324]].forEach(d=>label(d[0],d[1],d[2],40,"#000","start"));

// ---- panel a
(function(){
 const x=d3.scaleLinear([0,10],[68.2,525]), y=d3.scaleLinear([0,10],[496.5,56.4]);
 const xf=d3.scaleLinear([0,10],[25.9,566]), yw=d3.scaleLinear([0,10],[529.3,17]);
 const xw=d3.scaleLinear([0,10],[525,566]);
 const g=svg.append("g").attr("fill","none").attr("stroke","#5a5a5a").attr("stroke-width",1);
 const seg=(a,b,c,d,w)=>g.append("line").attr("x1",a).attr("y1",b).attr("x2",c).attr("y2",d).attr("stroke-width",w||1);
 d3.range(11).forEach(i=>{
  seg(x(i),y(0),x(i),y(10)); seg(x(0),y(i),x(10),y(i));
  seg(x(10),y(i),566,yw(i));
  seg(xw(i),y(0)+(yw(0)-y(0))*i/10,xw(i),y(10)+(yw(10)-y(10))*i/10);
  seg(x(i),y(0),xf(i),529.3);
  const t=i/10; seg(68.2+(25.9-68.2)*t,496.5+32.8*t,525+(566-525)*t,496.5+32.8*t);
  seg(68.2+(25.9-68.2)*t,496.5+32.8*t,64+(25.9-68.2)*t,500.5+32.8*t);
 });
 seg(x(0),y(0)+.5,x(10),y(0)+.5,2); seg(25.9,529.3,566,529.3,1.5); seg(x(0),y(5),566,y(5),1.2);
 const wire=(e,color,NL,NM)=>{
  const [cx,cy,a,b,deg]=e, sx=x(1)-x(0), th=deg*Math.PI/180, gw=svg.append("g").attr("fill","none").attr("stroke",color).attr("stroke-width",1.1);
  const pt=(la,lo)=>{
   const X=Math.sin(la),Y=Math.cos(la)*Math.cos(lo),Z=Math.cos(la)*Math.sin(lo);
   const r1=.6, X2=X*Math.cos(r1)+Z*Math.sin(r1), r2=.7, Y2=Y*Math.cos(r2)-(Z*Math.cos(r1)-X*Math.sin(r1))*Math.sin(r2);
   const u=X2*a*sx, v=Y2*b*sx;
   return [x(cx)+u*Math.cos(th)-v*Math.sin(th), y(cy)+u*Math.sin(th)+v*Math.cos(th)];
  };
  const line=d3.line(), P=Math.PI;
  d3.range(1,NL).forEach(i=>gw.append("path").attr("d",line(d3.range(NM+1).map(j=>pt(-P/2+P*i/NL,2*P*j/NM)))));
  d3.range(NM).forEach(j=>{
   gw.append("path").attr("d",line(d3.range(NL+1).map(i=>pt(-P/2+P*i/NL,2*P*j/NM))));
   gw.append("path").attr("d",line(d3.range(NL+1).map(i=>pt(-P/2+P*i/NL,2*P*(j+i)/NM))));
  });
  gw.append("path").attr("stroke-width",1.6).attr("d",line(d3.range(73).map(k=>{const q=k*P/36,u=Math.cos(q)*a*sx,v=Math.sin(q)*b*sx;return [x(cx)+u*Math.cos(th)-v*Math.sin(th),y(cy)+u*Math.sin(th)+v*Math.cos(th)];})));
 };
 wire(ellRed,"#f2140a",9,14); wire(ellBlack,"#000",9,14); wire(ellPurple,"#8a1a8a",9,14); wire(ellBlue,"#0a14ee",10,14);
 const defs=svg.append("defs"), rg=defs.append("radialGradient").attr("id","ball").attr("cx",.55).attr("cy",.35).attr("r",.6);
 rg.append("stop").attr("offset",0).attr("stop-color","#666"); rg.append("stop").attr("offset",.5).attr("stop-color","#111"); rg.append("stop").attr("offset",1).attr("stop-color","#000");
 const rad=[13,12,11];
 pcaBlack.forEach((d,i)=>svg.append("circle").attr("cx",x(d[0])).attr("cy",y(d[1])).attr("r",rad[i]).attr("fill","url(#ball)"));
 const sym=(data,type,size,fill,stroke)=>svg.append("g").selectAll("path").data(data).join("path").attr("d",d3.symbol().type(type).size(size)).attr("transform",d=>`translate(${x(d[0])},${y(d[1])})`).attr("fill",fill).attr("stroke",stroke||"none");
 sym(pcaRed,d3.symbolTriangle,210,"#9a1206");
 sym(pcaPurple,d3.symbolDiamond2,210,"#8c108c","#5c085c");
 sym(pcaBlue,d3.symbolSquare,470,"#0000e6");
 label("WT",130,144,27);
 label("OGA TG",444,149,28,"#ff0000");
 label("OGT × OGA TG",258,339,28.5,"#800080");
 label("OGT TG",346,477,28,"#0000ff");
})();

// ---- panel b
(function(){
 const L=767.4,R=1565.9,T=77.4,B=349.2;
 const band=d3.scaleBand(pathways.map(d=>d[0]),[757,1573.3]);
 const yl=d3.scaleLinear([0,-6],[T,B]), yr=d3.scaleLinear([5,-5],[T,B]);
 const g=svg.append("g");
 pathways.slice(1).forEach(p=>{const xx=band(p[0]);g.append("line").attr("x1",xx).attr("x2",xx).attr("y1",yl(-.3)).attr("y2",B-14).attr("stroke","#bdbdbd").attr("stroke-width",1.5).attr("stroke-dasharray","8 6");});
 const W=38,cx=d=>band(d[0])+band.bandwidth()/2;
 g.selectAll(".z").data(pathways).join("rect").attr("x",d=>cx(d)-31-W/2).attr("width",W).attr("y",T).attr("height",(d,i)=>yr(zScore[i])-T).attr("fill","#94b3de").attr("stroke","#000").attr("stroke-width",2.5);
 g.selectAll(".p").data(pathways).join("rect").attr("x",d=>cx(d)+31-W/2).attr("width",W).attr("y",T).attr("height",(d,i)=>yl(logP[i])-T).attr("fill","#b4a0dc").attr("stroke","#000").attr("stroke-width",2.5);
 const ax=(sel)=>{sel.attr("font-size",29).selectAll("text").attr("font-family",'"Liberation Sans"').attr("font-weight","bold").attr("fill","#000");sel.selectAll("line,path").attr("stroke","#000").attr("stroke-width",3);};
 svg.append("g").attr("transform",`translate(${L},0)`).call(d3.axisLeft(yl).tickValues(bLeftTicks).tickSize(12).tickPadding(10).tickFormat(d=>String(d))).call(ax).select(".domain").attr("d",`M0,${T}V${B}`);
 svg.append("g").attr("transform",`translate(${R},0)`).call(d3.axisRight(yr).tickValues(bRightTicks).tickSize(12).tickPadding(11).tickFormat(d=>String(d))).call(ax).select(".domain").attr("d",`M0,${T}V${B}`);
 [T,B].forEach(v=>svg.append("line").attr("x1",L).attr("x2",R).attr("y1",v).attr("y2",v).attr("stroke","#000").attr("stroke-width",3.5));
 label("log (p-value)",702,212,30,"#000","middle",-90);
 label("Z-Score",1623,216,30,"#000","middle",90);
 svg.append("rect").attr("x",934).attr("y",21).attr("width",23.5).attr("height",23.5).attr("fill","#b4a0dc").attr("stroke","#4d2c91").attr("stroke-width",2);
 svg.append("rect").attr("x",1197).attr("y",21).attr("width",23).attr("height",23.5).attr("fill","#94b3de").attr("stroke","#2a5a9c").attr("stroke-width",2);
 label("log (p-value)",970,42,29,"#000","start"); label("z-score",1233,42,29,"#000","start");
 const nudge=[-2,-5,-3,-6,2];
 pathways.forEach((p,i)=>{
  const c=band(p[0])+band.bandwidth()/2;
  p.forEach((t,k)=>label(t,c-2+nudge[i]+k*19,377+k*17,28,"#000","end",-47));
 });
})();

// ---- panels c, d
function volcano(o){
 const x=d3.scaleLinear([-4,4],[o.x0,o.x1]), y=d3.scaleLinear([0,9],[o.y0,o.y9]);
 const g=svg.append("g");
 g.append("rect").attr("x",o.l).attr("y",o.t).attr("width",o.r-o.l).attr("height",o.b-o.t).attr("fill","#fff").attr("stroke","#c0c0b8").attr("stroke-width",1.5);
 const style=s=>{s.select(".domain").remove();s.selectAll("line").attr("stroke","#c0c0b8").attr("stroke-width",2);s.selectAll("text").attr("font-size",29).attr("font-family",'"Liberation Sans"').attr("font-weight","bold").attr("fill","#000");};
 g.append("g").attr("transform",`translate(0,${o.b})`).call(d3.axisBottom(x).tickValues(volX).tickSize(-(o.b-o.t)).tickPadding(14).tickFormat(d=>String(d))).call(style);
 g.append("g").attr("transform",`translate(${o.l},0)`).call(d3.axisLeft(y).tickValues(volY).tickSize(-(o.r-o.l)).tickPadding(10).tickFormat(d=>String(d))).call(style);
 const dots=(data,fill,r)=>g.append("g").selectAll("circle").data(data).join("circle").attr("cx",d=>x(d[0])).attr("cy",d=>y(d[1])).attr("r",r).attr("fill",fill).attr("stroke","#0d1620").attr("stroke-width",1.4);
 dots(o.blue,"#aed0f5",4.8); dots(o.red,"#f80808",4.4);
 label(o.title,x(0),o.titleY,32);
 const xl=svg.append("text").attr("x",x(0)).attr("y",o.xlY).attr("text-anchor","middle").attr("font-size",29);
 xl.append("tspan").text("Log"); xl.append("tspan").attr("dy",7).attr("font-size",19).text("2"); xl.append("tspan").attr("dy",-7).text(" (fold change)");
 const yl=svg.append("text").attr("transform",`translate(${o.ylX},${o.ylY}) rotate(-90)`).attr("text-anchor","middle").attr("font-size",30);
 yl.append("tspan").text("-Log"); yl.append("tspan").attr("dy",7).attr("font-size",20).text("10"); yl.append("tspan").attr("dy",-7).text(" (p-value)");
}
volcano({x0:130.1,x1:741.3,y0:1134.4,y9:699.1,l:85.6,r:786,t:682.1,b:1149.4,blue:cOut.concat(flat(cRows),flat(cRows2)),red:cRed,title:"OGT TG vs. WT",titleY:672,xlY:1232,ylX:33,ylY:913});
volcano({x0:979,x1:1590.6,y0:1134.2,y9:699.1,l:934.5,r:1634,t:682.1,b:1148.9,blue:dOut.concat(flat(dRows),flat(dRows2)),red:dRed,title:"OGT × OGA TG vs. WT",titleY:672,xlY:1227,ylX:880,ylY:917});

// ---- panel e
(function(){
 const l=111.4,r=891.5,t=1341.7,b=1830.3;
 const x=d3.scaleLinear([-2,3],[146.7,804]), y=d3.scaleLinear([-3,4],[1808,1384.8]);
 const g=svg.append("g");
 const style=s=>{s.select(".domain").remove();s.selectAll("line").attr("stroke","#d9d9d9").attr("stroke-width",1.5);s.selectAll("text").attr("font-size",28).attr("font-family",'"Liberation Sans"').attr("font-weight","bold").attr("fill","#000");};
 g.append("g").attr("transform",`translate(0,${b})`).call(d3.axisBottom(x).tickValues(eXTicks).tickSize(-(b-t)).tickPadding(11).tickFormat(d=>String(d))).call(style);
 g.append("g").attr("transform",`translate(${l},0)`).call(d3.axisLeft(y).tickValues(eYTicks).tickSize(-(r-l)).tickPadding(11).tickFormat(d=>String(d))).call(style);
 g.append("rect").attr("x",l).attr("y",t).attr("width",r-l).attr("height",b-t).attr("fill","none").attr("stroke","#808080").attr("stroke-width",1.5);
 g.append("g").selectAll("circle").data(eOut.concat(flat(eRows),flat(eRows2))).join("circle").attr("cx",d=>x(d[0])).attr("cy",d=>y(d[1])).attr("r",5.2).attr("fill","#fbbd80").attr("stroke","#5b4630").attr("stroke-width",1);
 g.append("line").attr("x1",x(eLineX[0])).attr("y1",y(eLineY[0])).attr("x2",x(eLineX[1])).attr("y2",y(eLineY[1])).attr("stroke","#f50a0a").attr("stroke-width",2);
 g.append("g").selectAll("circle").data(eRed).join("circle").attr("cx",d=>x(d[0])).attr("cy",d=>y(d[1])).attr("r",4.6).attr("fill","#f50505").attr("stroke","#c8340e").attr("stroke-width",1);
 const xl=svg.append("text").attr("x",477).attr("y",1908).attr("text-anchor","middle").attr("font-size",29);
 xl.append("tspan").text("Log"); xl.append("tspan").attr("dy",7).attr("font-size",19).text("2"); xl.append("tspan").attr("dy",-7).text(" (FC) OGT × OGA TG vs WT");
 const yl=svg.append("text").attr("transform",`translate(44,1591) rotate(-90)`).attr("text-anchor","middle").attr("font-size",29.5);
 yl.append("tspan").text("Log"); yl.append("tspan").attr("dy",7).attr("font-size",19).text("2"); yl.append("tspan").attr("dy",-7).text(" (FC) OGT TG vs WT");
})();
</script></body></html>
